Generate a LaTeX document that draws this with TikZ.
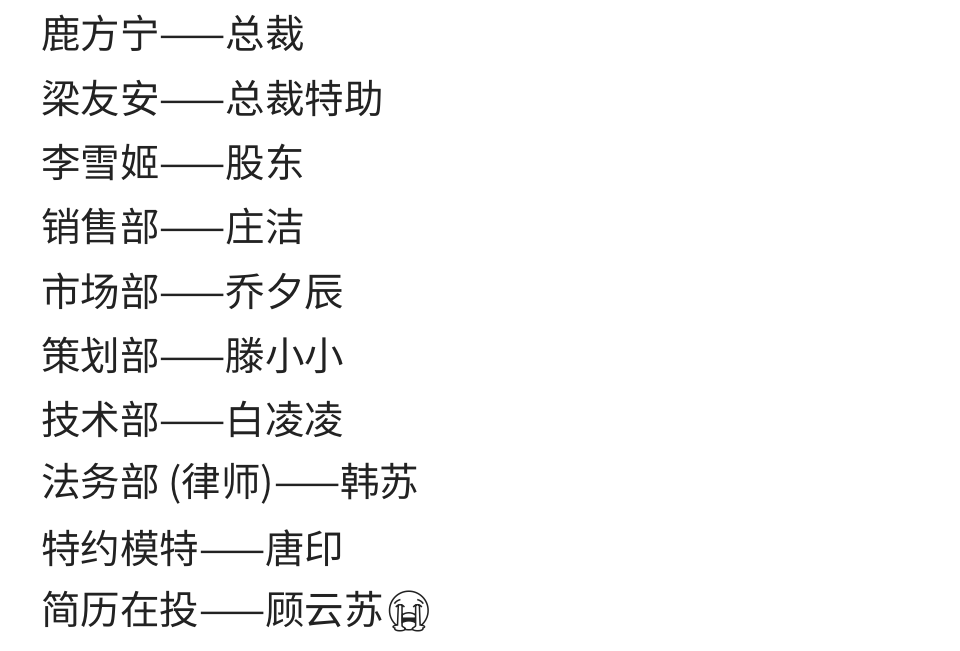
\documentclass[tikz,border=0pt]{standalone}
\usepackage{fontspec}
\newfontfamily\cjk{Noto Sans CJK SC}
\newfontfamily\emo{Noto Emoji}
\definecolor{txt}{HTML}{222222}
\begin{document}
\begin{tikzpicture}[x=1pt,y=1pt,line/.style={anchor=west,inner sep=0pt,text=txt,font=\cjk\fontsize{39.5}{44}\selectfont}]
\useasboundingbox (0,0) rectangle (960,650);
\node[line] (l1) at (41,650-33) {鹿方宁——总裁};
\node[line] (l2) at (41,650-98) {梁友安——总裁特助};
\node[line] (l3) at (41,650-162) {李雪姬——股东};
\node[line] (l4) at (41,650-227) {销售部——庄洁};
\node[line] (l5) at (41,650-291) {市场部——乔夕辰};
\node[line] (l6) at (41,650-355) {策划部——滕小小};
\node[line] (l7) at (41,650-419) {技术部——白凌凌};
\node[line] (l8) at (41,650-484) {法务部 (律师)——韩苏};
\node[line] (l9) at (41,650-548) {特约模特——唐印};
\node[line] (l10) at (41,650-611) {简历在投——顾云苏{\emo 😭}};
\end{tikzpicture}
\end{document}
